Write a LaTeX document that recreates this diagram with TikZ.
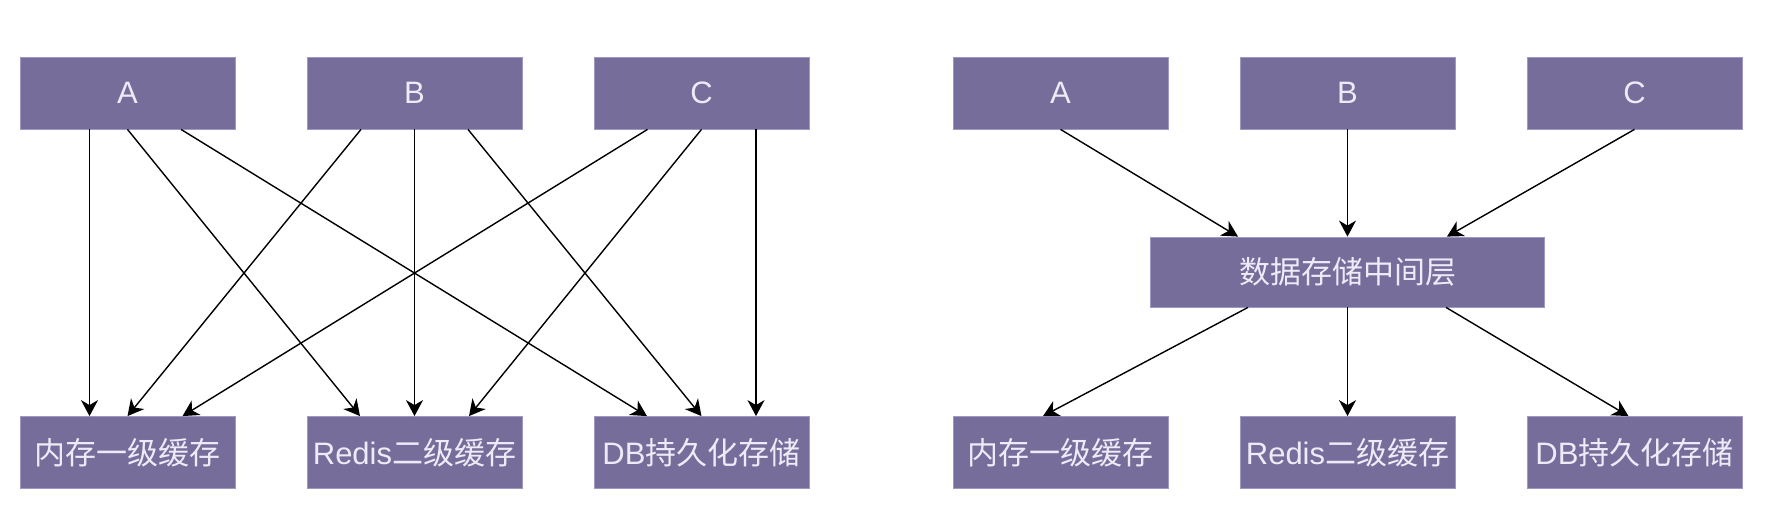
\documentclass[tikz,border=0pt]{standalone}
\usepackage{fontspec}
\setmainfont{Liberation Sans}
\newfontfamily\cjk{Noto Sans CJK SC}
\usepackage{xcolor}
\usepackage{tikz}
\usetikzlibrary{arrows.meta, calc}

\definecolor{boxfill}{RGB}{118,109,155}
\definecolor{boxline}{RGB}{160,152,196}
\definecolor{boxtext}{RGB}{238,234,247}

\begin{document}
\begin{tikzpicture}[x=0.5pt, y=-0.5pt, % pixel grid, y down
          layer/.style={rectangle, draw=boxline, line width=0.4pt, fill=boxfill, text=boxtext,
                        minimum width=107.5pt, minimum height=36pt, inner sep=0pt,
                        font=\fontsize{15.5}{18}\selectfont},
          conn/.style={draw=black, line width=0.7pt, -{Stealth[length=8pt, width=8.5pt, inset=2.5pt]}}
        ]
        \useasboundingbox (0,0) rectangle (1769,508);

        % Left: every client talks to every store
        \node[layer] (a)     at (127.5,93) {A};
        \node[layer] (b)     at (414.5,93) {B};
        \node[layer] (c)     at (701.5,93) {C};
        \node[layer] (mem)   at (127.5,452.5) {\cjk 内存一级缓存};
        \node[layer] (redis) at (414.5,452.5) {Redis\cjk{二级缓存}};
        \node[layer] (db)    at (701.5,452.5) {DB\cjk{持久化存储}};

        \draw[conn] ($(a.south)+(-38,0)$) -- ($(mem.north)+(-38,0)$);
        \draw[conn] (a.south) -- ($(redis.north)+(-54.5,0)$);
        \draw[conn] ($(a.south)+(53.5,0)$) -- ($(db.north)+(-54.5,0)$);

        \draw[conn] ($(b.south)+(-53.5,0)$) -- (mem.north);
        \draw[conn] (b.south) -- (redis.north);
        \draw[conn] ($(b.south)+(53.5,0)$) -- (db.north);

        \draw[conn] ($(c.south)+(-54,0)$) -- ($(mem.north)+(55,0)$);
        \draw[conn] (c.south) -- ($(redis.north)+(54.5,0)$);
        \draw[conn] ($(c.south)+(54.5,0)$) -- ($(db.north)+(54.5,0)$);

        % Right: one middle layer in between
        \node[layer] (a2)     at (1060.5,93) {A};
        \node[layer] (b2)     at (1347.5,93) {B};
        \node[layer] (c2)     at (1634.5,93) {C};
        \node[layer, minimum width=197pt, minimum height=35pt] (mid) at (1347.5,272) {\cjk 数据存储中间层};
        \node[layer] (mem2)   at (1060.5,452.5) {\cjk 内存一级缓存};
        \node[layer] (redis2) at (1347.5,452.5) {Redis\cjk{二级缓存}};
        \node[layer] (db2)    at (1634.5,452.5) {DB\cjk{持久化存储}};

        \draw[conn] (a2.south) -- ($(mid.north)+(-109.5,0)$);
        \draw[conn] (b2.south) -- (mid.north);
        \draw[conn] (c2.south) -- ($(mid.north)+(99.5,0)$);

        \draw[conn] ($(mid.south)+(-99.5,0)$) -- ($(mem2.north)+(-17.5,0)$);
        \draw[conn] (mid.south) -- (redis2.north);
        \draw[conn] ($(mid.south)+(98.5,0)$) -- ($(db2.north)+(-6,0)$);

        \end{tikzpicture}
\end{document}
